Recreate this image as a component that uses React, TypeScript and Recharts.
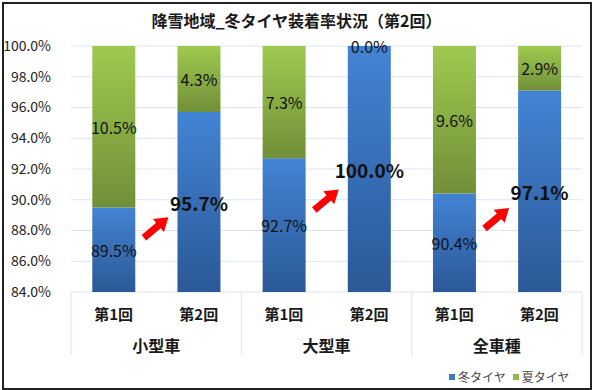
import React from 'react'
import {
  ComposedChart,
  Bar,
  Line,
  XAxis,
  YAxis,
  CartesianGrid,
  LabelList,
  Legend,
} from 'recharts'

// ── data ──────────────────────────────────────────
const rounds = ['第1回', '第2回', '第1回', '第2回', '第1回', '第2回']
const groups = ['小型車', '小型車', '大型車', '大型車', '全車種', '全車種']
const winterRate = [89.5, 95.7, 92.7, 100.0, 90.4, 97.1]
const summerRate = [10.5, 4.3, 7.3, 0.0, 9.6, 2.9]
// arrows sit between 第1回 and 第2回, at this level (%)
const arrowLevel = [null, 88.2, null, 90.0, null, 88.8]
const yTicks = [84, 86, 88, 90, 92, 94, 96, 98, 100]
const AXIS_MIN = 84

const FONT = '"Noto Sans CJK JP", "Noto Sans", sans-serif'
const W = 593
const H = 390
const MARGIN = { top: 46, right: 11, left: 0, bottom: 32 }
const Y_AXIS_W = 71
const BAND = (W - MARGIN.left - MARGIN.right - Y_AXIS_W) / rounds.length

const data = rounds.map((r, i) => ({
  key: `${groups[i]}-${r}`,
  round: r,
  group: groups[i],
  base: AXIS_MIN,
  winter: winterRate[i] - AXIS_MIN,
  summer: summerRate[i],
  arrow: arrowLevel[i],
}))

const pct = (v: number) => `${v.toFixed(1)}%`

function RoundTick(props: any) {
  const { x, y, payload, index } = props
  const i = payload?.index ?? index
  return (
    <g>
      {i % 2 === 0 && <line x1={x - BAND / 2} x2={x - BAND / 2} y1={y} y2={y + 63} stroke="#dbe3ef" />}
      {i === rounds.length - 1 && <line x1={x + BAND / 2} x2={x + BAND / 2} y1={y} y2={y + 63} stroke="#dbe3ef" />}
      <text x={x} y={y + 21} textAnchor="middle" dominantBaseline="central" fontFamily={FONT} fontSize={15} fontWeight={700} fill="#1a1a1a">
        {payload.value}
      </text>
    </g>
  )
}

function GroupTick(props: any) {
  const { x, y, payload, index } = props
  const i = payload?.index ?? index
  if (i % 2 !== 0) return <g />
  return (
    <text x={x + BAND / 2} y={y + 17} textAnchor="middle" dominantBaseline="central" fontFamily={FONT} fontSize={16} fontWeight={700} fill="#1a1a1a">
      {payload.value}
    </text>
  )
}

function WinterLabel(props: any) {
  const { x, y, width, height, index } = props
  const big = index % 2 === 1
  const cx = x + width / 2
  return (
    <g>
      <text
        x={cx}
        y={y + height / 2}
        textAnchor="middle"
        dominantBaseline="central"
        fontFamily={FONT}
        fontSize={big ? 19 : 16}
        fontWeight={big ? 700 : 400}
        fill="#111"
      >
        {pct(winterRate[index])}
      </text>
      {/* a zero summer segment draws no bar, so its label hangs off the top of the winter one */}
      {summerRate[index] === 0 && (
        <text x={cx} y={y} textAnchor="middle" dominantBaseline="central" fontFamily={FONT} fontSize={16} fill="#111">
          {pct(0)}
        </text>
      )}
    </g>
  )
}

function SummerLabel(props: any) {
  const { x, y, width, height, value } = props
  return (
    <text x={x + width / 2} y={y + height / 2} textAnchor="middle" dominantBaseline="central" fontFamily={FONT} fontSize={16} fill="#111">
      {pct(Number(value))}
    </text>
  )
}

function ArrowDot(props: any) {
  const { cx, cy, value, index } = props
  if (value == null || cx == null || cy == null) return <g key={`a-${index}`} />
  return (
    <g key={`a-${index}`} transform={`translate(${cx - BAND / 2},${cy}) rotate(-40)`}>
      <polygon points="-16,-3.5 3,-3.5 3,-8.5 16,0 3,8.5 3,3.5 -16,3.5" fill="#ff0000" />
    </g>
  )
}

function LegendBox() {
  const item = (color: string, label: string) => (
    <span style={{ display: 'inline-flex', alignItems: 'center', marginRight: 7 }}>
      <span style={{ width: 6, height: 6, background: color, display: 'inline-block', marginRight: 3 }} />
      {label}
    </span>
  )
  return (
    <div style={{ fontFamily: FONT, fontSize: 12, color: '#444', whiteSpace: 'nowrap', display: 'flex' }}>
      {item('#3a78c8', '冬タイヤ')}
      {item('#8fbb45', '夏タイヤ')}
    </div>
  )
}

export default function App() {
  return (
    <div style={{ position: 'absolute', left: 0, top: 0, width: W, height: H, background: '#fff' }}>
      <div
        style={{
          position: 'absolute',
          left: 0,
          top: 9,
          width: W,
          textAlign: 'center',
          fontFamily: FONT,
          fontSize: 16,
          fontWeight: 700,
          color: '#1a1a1a',
          lineHeight: '22px',
        }}
      >
        降雪地域_冬タイヤ装着率状況（第2回）
      </div>
      <ComposedChart width={W} height={H} data={data} margin={MARGIN} barCategoryGap="25%">
        <defs>
          <linearGradient id="gBlue" x1="0" y1="0" x2="0" y2="1">
            <stop offset="0%" stopColor="#4284d4" />
            <stop offset="100%" stopColor="#2b5897" />
          </linearGradient>
          <linearGradient id="gGreen" x1="0" y1="0" x2="0" y2="1">
            <stop offset="0%" stopColor="#9fca4f" />
            <stop offset="100%" stopColor="#718f38" />
          </linearGradient>
        </defs>
        <CartesianGrid vertical={false} stroke="#dce4f1" />
        <XAxis
          dataKey="key"
          xAxisId={0}
          height={36}
          axisLine={false}
          tickLine={false}
          tickSize={0}
          tickMargin={0}
          interval={0}
          tick={(p: any) => <RoundTick {...p} payload={{ ...p.payload, value: rounds[p.index] }} />}
        />
        <XAxis
          dataKey="key"
          xAxisId={1}
          height={30}
          axisLine={false}
          tickLine={false}
          tickSize={0}
          tickMargin={0}
          interval={0}
          tick={(p: any) => <GroupTick {...p} payload={{ ...p.payload, value: groups[p.index] }} />}
        />
        <YAxis
          width={Y_AXIS_W}
          domain={[AXIS_MIN, 100]}
          ticks={yTicks}
          allowDataOverflow
          axisLine={false}
          tickLine={false}
          tickMargin={14}
          tickFormatter={(v: number) => pct(v)}
          tick={{ fill: '#222', fontSize: 14, fontFamily: FONT }}
        />
        <Bar dataKey="base" stackId="s" fill="transparent" legendType="none" isAnimationActive={false} />
        <Bar dataKey="winter" name="冬タイヤ" stackId="s" fill="url(#gBlue)" isAnimationActive={false}>
          <LabelList dataKey="winter" content={WinterLabel} />
        </Bar>
        <Bar dataKey="summer" name="夏タイヤ" stackId="s" fill="url(#gGreen)" isAnimationActive={false}>
          <LabelList dataKey="summer" content={SummerLabel} />
        </Bar>
        <Line
          dataKey="arrow"
          stroke="none"
          dot={ArrowDot}
          activeDot={false}
          legendType="none"
          isAnimationActive={false}
        />
        <Legend
          layout="vertical"
          align="center"
          verticalAlign="middle"
          content={() => <LegendBox />}
          wrapperStyle={{ left: 449, top: 368, width: 140, height: 16 }}
        />
      </ComposedChart>
      <div
        style={{
          position: 'absolute',
          left: 2,
          top: 2,
          width: 586,
          height: 384,
          border: '2px solid #222',
          pointerEvents: 'none',
        }}
      />
    </div>
  )
}
